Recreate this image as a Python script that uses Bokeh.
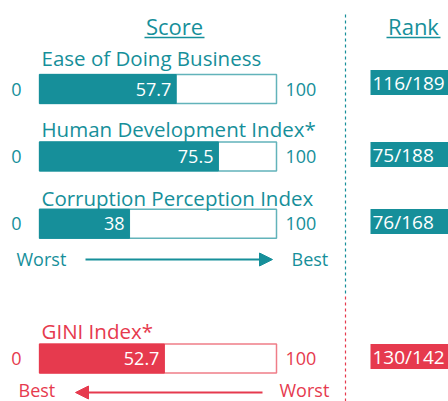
from bokeh.plotting import figure
from bokeh.models import Range1d, Arrow, NormalHead
from bokeh.core.properties import value
from bokeh.embed import file_html
from bokeh.resources import INLINE

# ---- data ----
indicators = ["Ease of Doing Business", "Human Development Index*", "Corruption Perception Index", "GINI Index*"]
scores = [57.7, 75.5, 38, 52.7]
ranks = ["116/189", "75/188", "76/168", "130/142"]
rows = [0, 1, 2, 4]
scale_min = 0
scale_max = 100

TEAL = "#168f9a"
TEAL_LIGHT = "#62b3ba"
RED = "#e63a4e"
RED_LIGHT = "#ef7d88"
colors = [TEAL, TEAL, TEAL, RED]
light = [TEAL_LIGHT, TEAL_LIGHT, TEAL_LIGHT, RED_LIGHT]
FONT = value("Open Sans")

# layout helpers (page px -> data units)
PX = 2.37       # px per score unit
ROWPX = 67.4    # px per row
def X(px):
    return (px - 39) / PX
def Y(py):
    return (py - 88.5) / ROWPX
def dx(px):
    return px / PX
def dy(px):
    return px / ROWPX

label_py = [57.5, 128.5, 197.5, 330]
rank_py = [82, 154, 221, 356]

W, H = 448, 401
p = figure(width=W, height=H, output_backend="svg", toolbar_location=None,
           x_range=Range1d(X(0), X(W)), y_range=Range1d(Y(H), Y(0)),
           min_border=0)
p.axis.visible = False
p.grid.visible = False
p.outline_line_color = None
p.background_fill_color = "white"

half = dy(14.5)
tops = [r - half for r in rows]
bots = [r + half for r in rows]

# outline bars
p.quad(left=[scale_min]*4, right=[scale_max]*4, top=tops, bottom=bots,
       fill_color="white", line_color=light, line_width=1.5)
# filled bars
p.quad(left=[scale_min]*4, right=scores, top=tops, bottom=bots,
       fill_color=colors, line_color=colors, line_width=1)

# value labels
p.text(x=[s - dx(5) for s in scores], y=rows, text=[str(s) for s in scores],
       text_color="white", text_font=FONT, text_font_size="18px",
       text_align="right", text_baseline="middle")

# 0 and 100
p.text(x=[X(16)]*4, y=rows, text=[str(scale_min)]*4, text_color=colors, text_font=FONT,
       text_font_size="18px", text_align="center", text_baseline="middle")
p.text(x=[X(285)]*4, y=rows, text=[str(scale_max)]*4, text_color=colors, text_font=FONT,
       text_font_size="18px", text_align="left", text_baseline="middle")

# indicator names
p.text(x=[X(41)]*4, y=[Y(v) for v in label_py], text=indicators, text_color=colors,
       text_font=FONT, text_font_size="20.5px", text_align="left", text_baseline="middle")

# rank boxes
p.quad(left=[X(370)]*4, right=[X(460)]*4, top=[Y(v) - dy(12.5) for v in rank_py],
       bottom=[Y(v) + dy(12.5) for v in rank_py], fill_color=colors, line_color=None)
p.text(x=[X(372)]*4, y=[Y(v) for v in rank_py], text=ranks, text_color="white", text_font=FONT,
       text_font_size="19px", text_align="left", text_baseline="middle")

# headers
p.text(x=[X(174), X(413)], y=[Y(25.5), Y(25.5)], text=["Score", "Rank"], text_color=TEAL,
       text_font=FONT, text_font_size="22px", text_align="center", text_baseline="middle")
p.segment(x0=[X(144), X(386)], x1=[X(204), X(440)], y0=[Y(37)]*2, y1=[Y(37)]*2,
          line_color=TEAL, line_width=1.5)

# dashed divider
p.segment(x0=[X(345)], x1=[X(345)], y0=[Y(14)], y1=[Y(296)], line_color=TEAL,
          line_width=1.2, line_dash="3 3")
p.segment(x0=[X(345)], x1=[X(345)], y0=[Y(296)], y1=[Y(401)], line_color=RED,
          line_width=1.2, line_dash="3 3")

# direction arrows
p.text(x=[X(16), X(291)], y=[Y(258)]*2, text=["Worst", "Best"], text_color=TEAL, text_font=FONT,
       text_font_size="18px", text_align="left", text_baseline="middle")
p.add_layout(Arrow(end=NormalHead(size=13, fill_color=TEAL, line_color=TEAL),
                   x_start=X(85), y_start=Y(259), x_end=X(272), y_end=Y(259),
                   line_color=TEAL, line_width=2))
p.text(x=[X(18), X(279)], y=[Y(389)]*2, text=["Best", "Worst"], text_color=RED, text_font=FONT,
       text_font_size="18px", text_align="left", text_baseline="middle")
p.add_layout(Arrow(end=NormalHead(size=13, fill_color=RED, line_color=RED),
                   x_start=X(262), y_start=Y(392), x_end=X(75), y_end=Y(392),
                   line_color=RED, line_width=2))

open("out.html", "w").write(file_html(p, INLINE))
